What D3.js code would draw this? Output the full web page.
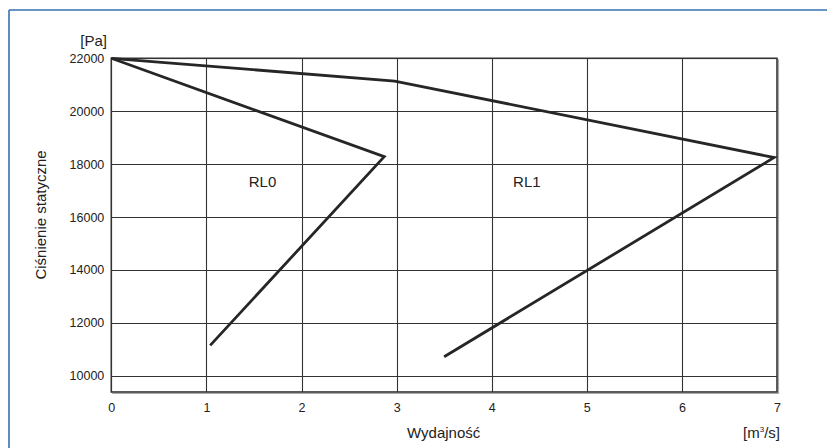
<!DOCTYPE html>
<html>
<head>
<meta charset="utf-8">
<script src="https://cdn.jsdelivr.net/npm/d3@7/dist/d3.min.js"></script>
<style>
html,body{margin:0;padding:0;background:#fff;}
svg{display:block;}
text{font-family:"Liberation Sans",Arial,Helvetica,sans-serif;fill:#222;}
</style>
</head>
<body>
<svg id="chart" width="827" height="448"></svg>
<script>
// ---- data ----
const xTicks = [0, 1, 2, 3, 4, 5, 6, 7];
const yTicks = [10000, 12000, 14000, 16000, 18000, 20000, 22000];
const seriesNames = ["RL0", "RL1"];
const rl0Flow = [0, 2.87, 1.04];
const rl0Pressure = [22000, 18280, 11150];
const rl1Flow = [0, 2.98, 6.97, 3.5];
const rl1Pressure = [22000, 21140, 18250, 10720];
const labelFlow = [1.59, 4.37];
const labelPressure = [17120, 17120];
const xTitle = "Wydajność";
const yTitle = "Ciśnienie statyczne";
const yUnit = "[Pa]";

// ---- layout ----
const svg = d3.select("#chart");
const pL = 111.3, pR = 777, pT = 58.3, pB = 392;
const x = d3.scaleLinear().domain([0, 7]).range([pL, pR]);
const y = d3.scaleLinear().domain([10000, 22000]).range([375.8, pT]);

// outer frame (blue)
svg.append("line").attr("x1", 9).attr("x2", 827).attr("y1", 10).attr("y2", 10)
  .attr("stroke", "#3572b0").attr("stroke-width", 1.6);
svg.append("line").attr("x1", 9).attr("x2", 9).attr("y1", 10).attr("y2", 448)
  .attr("stroke", "#3572b0").attr("stroke-width", 1.6);

// grid
const g = svg.append("g");
g.selectAll(".hg").data(yTicks.filter(d => d < 22000)).enter().append("line")
  .attr("x1", pL).attr("x2", pR)
  .attr("y1", d => Math.round(y(d)) + 0.5).attr("y2", d => Math.round(y(d)) + 0.5)
  .attr("stroke", "#333").attr("stroke-width", 1.1);
g.selectAll(".vg").data(xTicks.filter(d => d > 0 && d < 7)).enter().append("line")
  .attr("x1", d => Math.round(x(d)) + 0.5).attr("x2", d => Math.round(x(d)) + 0.5)
  .attr("y1", pT).attr("y2", pB)
  .attr("stroke", "#333").attr("stroke-width", 1.1);

// frame shadow + border
g.append("path")
  .attr("d", `M${pR + 1.5},${pT + 1}V${pB + 1.5}H${pL + 1}`)
  .attr("fill", "none").attr("stroke", "#aaa").attr("stroke-width", 1.2);
g.append("rect").attr("x", pL).attr("y", pT)
  .attr("width", pR - pL).attr("height", pB - pT)
  .attr("fill", "none").attr("stroke", "#333").attr("stroke-width", 1.6);

// axes labels via d3 axes (no tick lines)
const xAxis = svg.append("g").attr("transform", `translate(0,${pB})`)
  .call(d3.axisBottom(x).tickValues(xTicks).tickFormat(d3.format("d")).tickSize(0).tickPadding(11));
const yAxis = svg.append("g").attr("transform", `translate(${pL},0)`)
  .call(d3.axisLeft(y).tickValues(yTicks).tickFormat(d => String(d)).tickSize(0).tickPadding(7));
[xAxis, yAxis].forEach(a => {
  a.select(".domain").remove();
  a.selectAll("text").attr("font-size", 12.5).attr("fill", "#222")
    .attr("font-family", "Liberation Sans, Arial, sans-serif");
});

// series lines
const line = d3.line().x(d => x(d[0])).y(d => y(d[1]));
const s0 = rl0Flow.map((v, i) => [v, rl0Pressure[i]]);
const s1 = rl1Flow.map((v, i) => [v, rl1Pressure[i]]);
[s0, s1].forEach(s => {
  svg.append("path").datum(s).attr("d", line)
    .attr("fill", "none").attr("stroke", "#262626").attr("stroke-width", 2.8)
    .attr("stroke-linejoin", "miter").attr("stroke-linecap", "butt");
});

// series labels
svg.selectAll(".sl").data(seriesNames).enter().append("text")
  .attr("x", (d, i) => x(labelFlow[i])).attr("y", (d, i) => y(labelPressure[i]))
  .attr("text-anchor", "middle").attr("font-size", 15).text(d => d);

// titles
svg.append("text").attr("x", (pL + pR) / 2 - 0.5).attr("y", 437.5)
  .attr("text-anchor", "middle").attr("font-size", 15).text(xTitle);
svg.append("text").attr("transform", `translate(46,215) rotate(-90)`)
  .attr("text-anchor", "middle").attr("font-size", 15).text(yTitle);
svg.append("text").attr("x", 107).attr("y", 45.5)
  .attr("text-anchor", "end").attr("font-size", 15).text(yUnit);
const unit = svg.append("text").attr("x", 780).attr("y", 437.5)
  .attr("text-anchor", "end").attr("font-size", 15);
unit.append("tspan").text("[m");
unit.append("tspan").attr("font-size", 8).attr("dy", -6).text("3");
unit.append("tspan").attr("dy", 6).text("/s]");
</script>
</body>
</html>
